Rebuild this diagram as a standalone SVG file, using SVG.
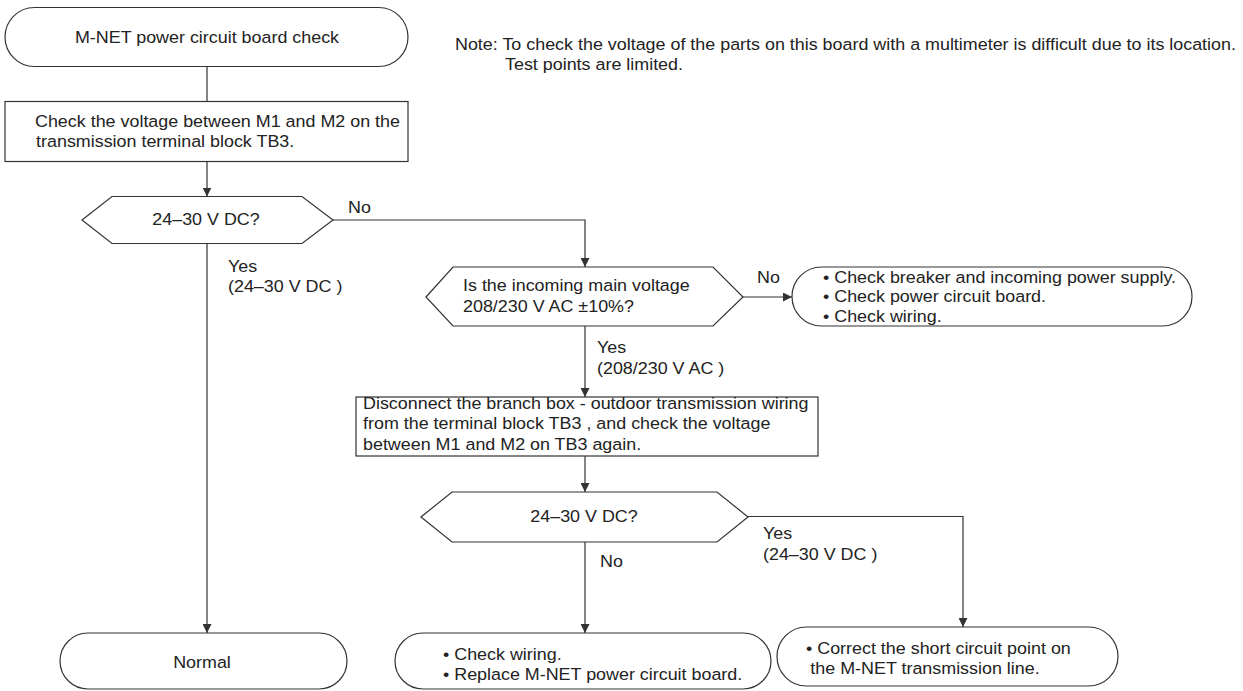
<svg xmlns="http://www.w3.org/2000/svg" width="1243" height="691" viewBox="0 0 1243 691">
<defs>
<marker id="arr" viewBox="0 0 10 10" refX="10" refY="5" markerWidth="9" markerHeight="9" markerUnits="userSpaceOnUse" orient="auto">
<path d="M0,0 L10,5 L0,10 Z" fill="#333"/>
</marker>
<style>
.sh{fill:#fff;stroke:#333;stroke-width:1.2}
.ln{fill:none;stroke:#333;stroke-width:1.2}
.ar{fill:none;stroke:#333;stroke-width:1.2;marker-end:url(#arr)}
text{font-family:"Liberation Sans",Arial,sans-serif;font-size:16.5px;fill:#222}
.c{text-anchor:middle}
</style>
</defs>
<rect width="1243" height="691" fill="#fff"/>
<g id="connectors">
<line class="ln" x1="207" y1="67" x2="207" y2="101.5"/>
<line class="ar" x1="207" y1="161.5" x2="207" y2="196.5"/>
<polyline class="ar" points="333,220 585,220 585,267"/>
<line class="ar" x1="207" y1="243.5" x2="207" y2="633"/>
<line class="ar" x1="743" y1="297" x2="792" y2="297"/>
<line class="ar" x1="585" y1="326" x2="585" y2="397"/>
<line class="ar" x1="585" y1="456" x2="585" y2="492"/>
<line class="ar" x1="585" y1="542" x2="585" y2="633"/>
<polyline class="ar" points="748,516.5 963,516.5 963,627"/>
<text transform="translate(348,213) scale(1.085,1)">No</text>
<text transform="translate(228,272) scale(1.085,1)"><tspan x="0" y="0">Yes</tspan><tspan x="0" y="20">(24–30 V DC )</tspan></text>
<text transform="translate(757,283) scale(1.085,1)">No</text>
<text transform="translate(597,353) scale(1.085,1)"><tspan x="0" y="0">Yes</tspan><tspan x="0" y="21">(208/230 V AC )</tspan></text>
<text transform="translate(600,567) scale(1.085,1)">No</text>
<text transform="translate(763,539) scale(1.085,1)"><tspan x="0" y="0">Yes</tspan><tspan x="0" y="21">(24–30 V DC )</tspan></text>
</g>
<g id="note">
<text transform="translate(455,50) scale(1.085,1)">Note: To check the voltage of the parts on this board with a multimeter is difficult due to its location.</text>
<text transform="translate(505,70) scale(1.085,1)">Test points are limited.</text>
</g>
<g id="start">
<rect class="sh" x="5" y="7.5" width="403" height="59" rx="29.5"/>
<text class="c" transform="translate(207,43) scale(1.085,1)">M-NET power circuit board check</text>
</g>
<g id="check1">
<rect class="sh" x="5" y="101.5" width="403" height="60"/>
<text transform="translate(35,127) scale(1.085,1)"><tspan x="0" y="0">Check the voltage between M1 and M2 on the</tspan><tspan x="1" y="20">transmission terminal block TB3.</tspan></text>
</g>
<g id="dec1">
<polygon class="sh" points="82,220 112,196.5 302,196.5 333,220 302,243.5 112,243.5"/>
<text class="c" transform="translate(206,225) scale(1.085,1)">24–30 V DC?</text>
</g>
<g id="dec2">
<polygon class="sh" points="426,297 453,267 713,267 743,297 713,326 453,326"/>
<text transform="translate(463,291) scale(1.085,1)"><tspan x="0" y="0">Is the incoming main voltage</tspan><tspan x="0" y="21">208/230 V AC ±10%?</tspan></text>
</g>
<g id="power">
<rect class="sh" x="792" y="267" width="400" height="59" rx="29.5"/>
<text transform="translate(823,283) scale(1.085,1)"><tspan x="0" y="0">• Check breaker and incoming power supply.</tspan><tspan x="0" y="19.5">• Check power circuit board.</tspan><tspan x="0" y="39">• Check wiring.</tspan></text>
</g>
<g id="check2">
<rect class="sh" x="356" y="397" width="462" height="59"/>
<text transform="translate(363,409) scale(1.085,1)"><tspan x="0" y="0">Disconnect the branch box - outdoor transmission wiring</tspan><tspan x="0" y="20.5">from the terminal block TB3 , and check the voltage</tspan><tspan x="0" y="41">between M1 and M2 on TB3 again.</tspan></text>
</g>
<g id="dec3">
<polygon class="sh" points="421,517 452,492 717,492 748,517 717,542 452,542"/>
<text class="c" transform="translate(584,522) scale(1.085,1)">24–30 V DC?</text>
</g>
<g id="normal">
<rect class="sh" x="60" y="633" width="287" height="56" rx="28"/>
<text class="c" transform="translate(202,668) scale(1.085,1)">Normal</text>
</g>
<g id="replace">
<rect class="sh" x="395" y="633" width="376" height="56" rx="28"/>
<text transform="translate(443,660) scale(1.085,1)"><tspan x="0" y="0">• Check wiring.</tspan><tspan x="0" y="20">• Replace M-NET power circuit board.</tspan></text>
</g>
<g id="short">
<rect class="sh" x="777" y="627" width="341" height="59" rx="29.5"/>
<text transform="translate(806,654) scale(1.085,1)"><tspan x="0" y="0">• Correct the short circuit point on</tspan><tspan x="4" y="20">the M-NET transmission line.</tspan></text>
</g>
</svg>
